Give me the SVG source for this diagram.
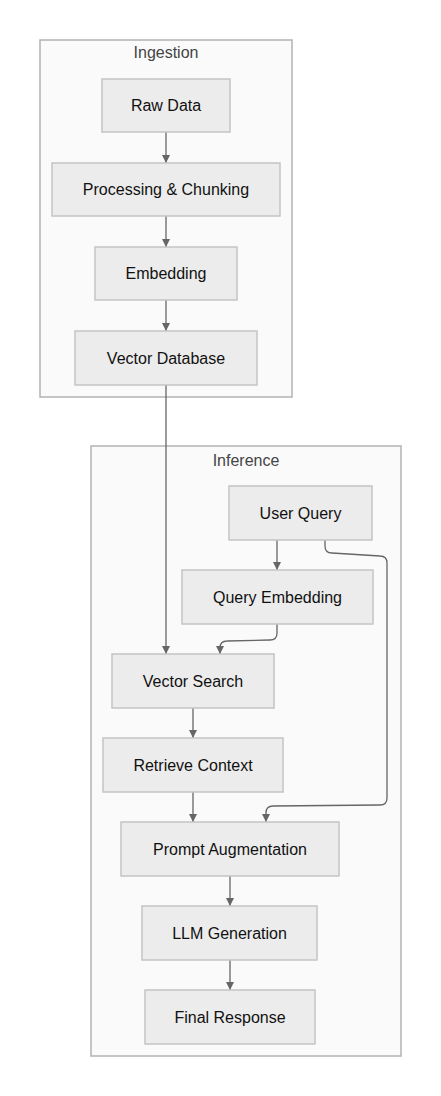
<svg xmlns="http://www.w3.org/2000/svg" width="441" height="1096" viewBox="0 0 441 1096">
<style>
.cluster{fill:#fafafa;stroke:#b3b3b3;stroke-width:1.5}
.node{fill:#ececec;stroke:#c4c4c4;stroke-width:1.5}
.lbl{font-family:"Liberation Sans",Arial,sans-serif;font-size:16px;fill:#111;text-anchor:middle;dominant-baseline:central}
.title{font-family:"Liberation Sans",Arial,sans-serif;font-size:16px;fill:#444;text-anchor:middle;dominant-baseline:central}
.edge{fill:none;stroke:#666;stroke-width:1.3}
</style>
<defs>
<marker id="arr" viewBox="0 0 10 10" refX="10" refY="5" markerWidth="8" markerHeight="8" markerUnits="userSpaceOnUse" orient="auto">
<path d="M0,0 L10,5 L0,10 z" fill="#666"/>
</marker>
</defs>
<rect width="441" height="1096" fill="#ffffff"/>
<g id="cluster-ingestion">
<rect class="cluster" x="40" y="40" width="252" height="357"/>
<text class="title" x="166" y="52">Ingestion</text>
</g>
<g id="cluster-inference">
<rect class="cluster" x="91" y="446" width="310" height="610"/>
<text class="title" x="246" y="460">Inference</text>
</g>
<g id="edges">
<path class="edge" d="M166,132 L166,163" marker-end="url(#arr)"/>
<path class="edge" d="M166,216 L166,247" marker-end="url(#arr)"/>
<path class="edge" d="M166,300 L166,331" marker-end="url(#arr)"/>
<path class="edge" d="M166,385 L166,654" marker-end="url(#arr)"/>
<path class="edge" d="M277,540 L277,570" marker-end="url(#arr)"/>
<path class="edge" d="M277,624 L277,633 Q277,640 270,640 L227,641 Q220,641 220,648 L220,654" marker-end="url(#arr)"/>
<path class="edge" d="M325,540 L325,546 Q325,553 332,553 L380,556 Q387,556 387,563 L387,798 Q387,805 380,805 L273,806 Q266,806 266,813 L266,822" marker-end="url(#arr)"/>
<path class="edge" d="M193,708 L193,738" marker-end="url(#arr)"/>
<path class="edge" d="M193,792 L193,822" marker-end="url(#arr)"/>
<path class="edge" d="M230,876 L230,906" marker-end="url(#arr)"/>
<path class="edge" d="M230,960 L230,990" marker-end="url(#arr)"/>
</g>
<g id="raw-data"><rect class="node" x="102" y="79" width="128" height="53"/><text class="lbl" x="166" y="105.5">Raw Data</text></g>
<g id="processing"><rect class="node" x="52" y="163" width="228" height="53"/><text class="lbl" x="166" y="189.5">Processing &amp; Chunking</text></g>
<g id="embedding"><rect class="node" x="95" y="247" width="142" height="53"/><text class="lbl" x="166" y="273.5">Embedding</text></g>
<g id="vector-db"><rect class="node" x="75" y="331" width="182" height="54"/><text class="lbl" x="166" y="358">Vector Database</text></g>
<g id="user-query"><rect class="node" x="229" y="486" width="143" height="54"/><text class="lbl" x="300.5" y="513">User Query</text></g>
<g id="query-embedding"><rect class="node" x="182" y="570" width="191" height="54"/><text class="lbl" x="277.5" y="597">Query Embedding</text></g>
<g id="vector-search"><rect class="node" x="112" y="654" width="162" height="54"/><text class="lbl" x="193" y="681">Vector Search</text></g>
<g id="retrieve-context"><rect class="node" x="103" y="738" width="180" height="54"/><text class="lbl" x="193" y="765">Retrieve Context</text></g>
<g id="prompt-augmentation"><rect class="node" x="121" y="822" width="218" height="54"/><text class="lbl" x="230" y="849">Prompt Augmentation</text></g>
<g id="llm-generation"><rect class="node" x="142" y="906" width="175" height="54"/><text class="lbl" x="229.5" y="933">LLM Generation</text></g>
<g id="final-response"><rect class="node" x="145" y="990" width="170" height="54"/><text class="lbl" x="230" y="1017">Final Response</text></g>
</svg>
